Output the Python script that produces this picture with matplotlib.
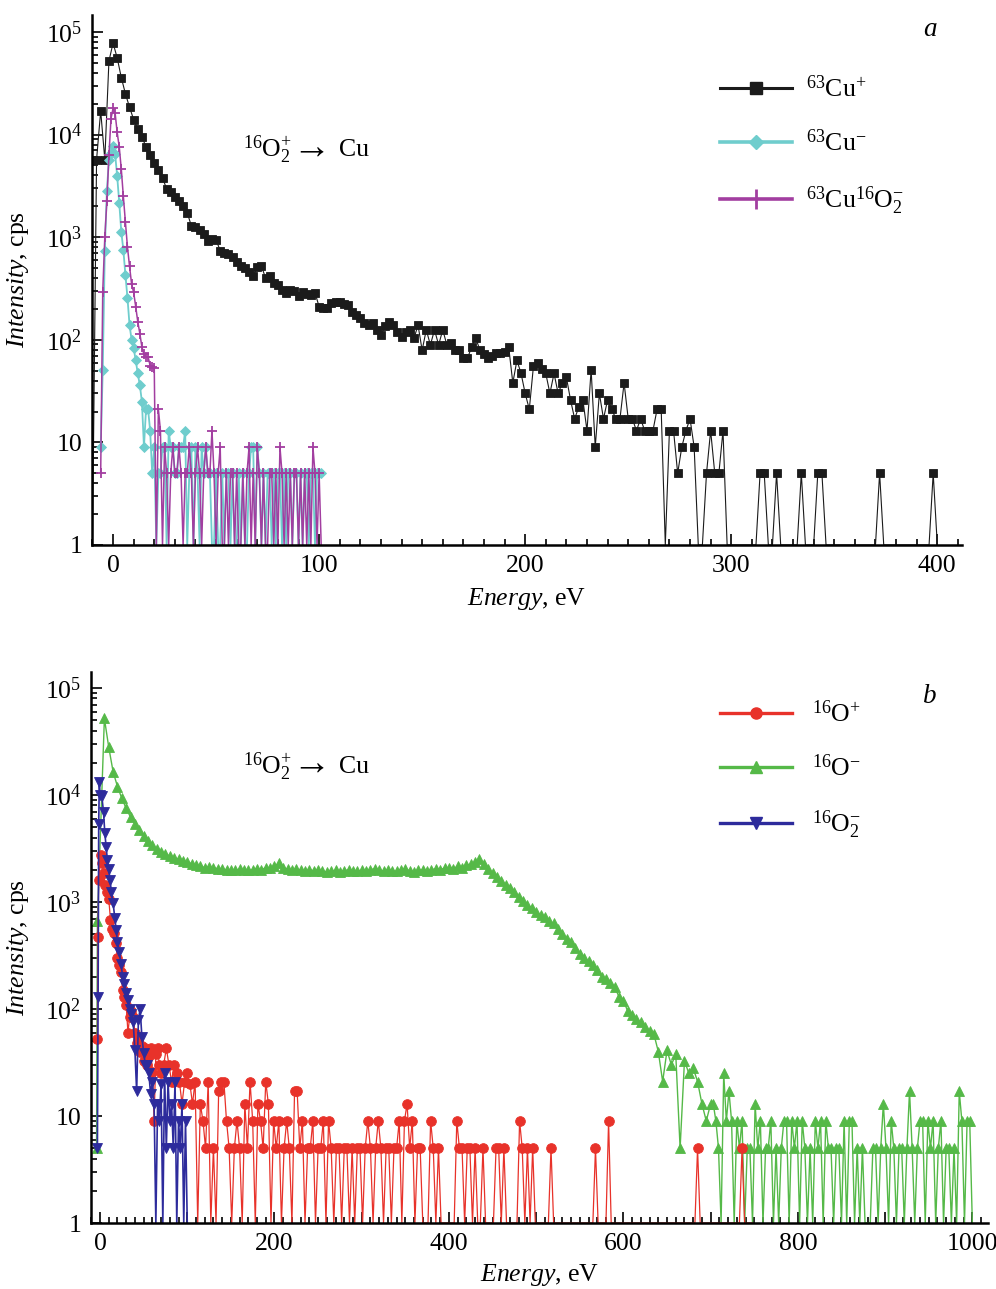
import numpy as np
import matplotlib
matplotlib.use("Agg")
import matplotlib.pyplot as plt
from matplotlib.lines import Line2D
from matplotlib.ticker import FixedLocator, MultipleLocator, LogLocator, NullFormatter, FuncFormatter

plt.rcParams['font.family'] = ['Liberation Serif', 'DejaVu Serif']
plt.rcParams['mathtext.fontset'] = 'custom'
plt.rcParams['mathtext.rm'] = 'Liberation Serif'
plt.rcParams['mathtext.it'] = 'Liberation Serif:italic'
plt.rcParams['mathtext.bf'] = 'Liberation Serif:bold'

# ---------------- panel a data (cps, 0 = no counts) ----------------
cu_plus_start, cu_plus_step = -10, 2
cu_plus = [0, 5700, 17000, 5700, 52000, 78000, 56000, 36000, 25000, 18500,
           14000, 11300, 9500, 7600, 6300, 5300, 4500, 3800, 2950, 2750,
           2450, 2250, 2000, 1730, 1290, 1260, 1170, 1080, 915, 960,
           940, 740, 705, 690, 640, 575, 525, 500, 460, 420,
           510, 525, 400, 420, 355, 340, 305, 285, 305, 300,
           270, 290, 280, 275, 288, 210, 205, 204, 229, 232,
           234, 225, 218, 187, 175, 163, 145, 139, 145, 125,
           111, 135, 150, 139, 120, 107, 118, 125, 103, 139,
           79, 125, 89, 125, 89, 125, 89, 93, 79, 79,
           66, 66, 85, 105, 79, 72, 66, 70, 74, 75,
           76, 85, 38, 63, 47, 30, 21, 55, 59, 52,
           47, 30, 47, 30, 38, 43, 26, 17, 22, 26,
           13, 51, 9, 30, 17, 26, 21, 17, 17, 38,
           17, 17, 13, 17, 13, 13, 13, 21, 21, 0,
           13, 13, 5, 9, 13, 17, 9, 0, 0, 5,
           13, 5, 5, 13, 0, 0, 0, 0, 0, 0,
           0, 0, 5, 5, 0, 0, 5, 0, 0, 0,
           0, 0, 5, 0, 0, 0, 5, 5, 0, 0,
           0, 0, 0, 0, 0, 0, 0, 0, 0, 0,
           0, 5, 0, 0, 0, 0, 0, 0, 0, 0,
           0, 0, 0, 0, 5, 0]

cu_minus_start, cu_minus_step = -6, 1
cu_minus = [9, 51, 740, 2800, 5700, 6600, 7750, 6450, 3950, 2170,
            1130, 750, 430, 256, 139, 100, 83, 63, 47, 36,
            25, 9, 21, 21, 13, 5, 9, 0, 5, 5,
            9, 9, 0, 13, 9, 9, 5, 5, 9, 9,
            9, 13, 0, 5, 9, 0, 9, 5, 0, 9,
            5, 9, 5, 5, 0, 0, 5, 0, 0, 5,
            0, 5, 5, 0, 5, 0, 0, 5, 0, 5,
            0, 0, 5, 9, 9, 0, 9, 5, 0, 5,
            0, 5, 5, 0, 5, 0, 5, 5, 0, 5,
            0, 5, 5, 0, 5, 5, 0, 5, 0, 5,
            5, 0, 5, 5, 0, 5, 5, 5]

cuo2_minus_start, cuo2_minus_step = -6, 1
cuo2_minus = [5, 295, 1000, 2240, 6300, 14300, 18000, 16200, 10500, 7600,
              4600, 2500, 1400, 800, 520, 350, 290, 210, 150, 115,
              85, 72, 68, 68, 56, 54, 53, 0, 21, 13,
              0, 9, 5, 0, 5, 9, 5, 5, 9, 5,
              0, 5, 5, 9, 5, 0, 5, 9, 5, 0,
              5, 9, 5, 5, 13, 5, 0, 5, 9, 0,
              0, 5, 0, 5, 5, 0, 5, 0, 0, 5,
              0, 5, 9, 0, 5, 0, 9, 5, 0, 5,
              0, 0, 5, 5, 0, 5, 0, 9, 5, 0,
              5, 0, 5, 0, 5, 5, 0, 5, 0, 5,
              0, 5, 0, 9, 5, 0, 5, 0]

# ---------------- panel b data ----------------
o_plus_peak_E = [-3, -2.5, -1.5, 1, 2.5, 4, 6, 8, 10, 12, 14, 16, 18, 20, 22, 24, 26, 28, 30,
                 32, 34, 36, 38, 40, 42, 44, 46, 48, 50, 52, 54, 56, 58, 60, 62, 64, 66, 68]
o_plus_peak_I = [53, 475, 1620, 2760, 2300, 1870, 1450, 1250, 1070, 680, 560, 510, 410, 300,
                 260, 220, 150, 130, 110, 60, 85, 95, 85, 60, 48, 51, 40, 45, 33, 43, 30, 36,
                 43, 26, 9, 38, 43, 30]
o_plus_tail_start, o_plus_tail_step = 70, 3
o_plus_tail = [25, 30, 43, 30, 21, 30, 25, 21, 13, 21,
               25, 20, 13, 21, 0, 13, 9, 5, 21, 0,
               5, 0, 17, 21, 21, 9, 5, 0, 5, 9,
               5, 0, 13, 5, 21, 9, 0, 13, 9, 5,
               21, 13, 0, 9, 5, 9, 0, 5, 9, 5,
               0, 17, 17, 5, 9, 0, 5, 5, 9, 0,
               5, 5, 9, 0, 9, 5, 0, 5, 5, 0,
               5, 5, 0, 5, 0, 5, 5, 0, 5, 9,
               5, 0, 5, 9, 5, 0, 5, 5, 0, 5,
               5, 9, 0, 9, 13, 5, 9, 0, 5, 5,
               0, 0, 0, 9, 5, 0, 5, 0, 0, 0,
               0, 0, 0, 9, 5, 5, 0, 5, 5, 0,
               5, 0, 0, 5, 0, 0, 0, 0, 5, 5,
               0, 5, 0, 0, 0, 0, 0, 9, 5, 0,
               5, 0, 5, 0, 0, 0, 0, 0, 0, 5,
               0, 0, 0, 0, 0, 0, 0, 0, 0, 0,
               0, 0, 0, 0, 0, 0, 5, 0, 0, 0,
               0, 9, 0, 0, 0, 0, 0, 0, 0, 0,
               0, 0, 0, 0, 0, 0, 0, 0, 0, 0,
               0, 0, 0, 0, 0, 0, 0, 0, 0, 0,
               0, 0, 0, 0, 0, 5, 0, 0, 0, 0,
               0, 0, 0, 0, 0, 0, 0, 0, 0, 0,
               0, 0, 5, 0, 0, 0, 0]

o_minus_pre_E = [-4, -3]
o_minus_pre_I = [5, 660]
o_minus_main_start, o_minus_main_step = 5, 5
o_minus_main = [52000, 28000, 16500, 12000, 9300, 7500, 6200, 5400, 4700, 4100,
                3700, 3400, 3150, 2950, 2800, 2690, 2600, 2500, 2400, 2350,
                2280, 2200, 2150, 2100, 2120, 2080, 2050, 2030, 2000, 2000,
                1980, 2020, 1990, 1970, 2000, 2050, 2000, 2100, 2060, 2150,
                2300, 2100, 2020, 1980, 2020, 2000, 1950, 2000, 1960, 1990,
                1940, 1900, 1950, 1970, 1920, 1960, 2000, 1950, 1930, 1980,
                1950, 2000, 2050, 1980, 1950, 2000, 1960, 1930, 2000, 2050,
                1950, 1920, 1980, 2000, 1950, 2000, 2050, 2000, 2080, 2100,
                2050, 2150, 2100, 2200, 2250, 2350, 2500, 2250, 2050, 1850,
                1700, 1580, 1450, 1350, 1250, 1120, 1020, 940, 880, 800,
                750, 720, 660, 630, 560, 500, 450, 420, 370, 330,
                300, 280, 260, 230, 200, 190, 175, 160, 130, 120,
                95, 88, 80, 75, 68, 62, 58, 40, 21, 41,
                30, 38, 5, 33, 25, 28, 21, 13, 9, 13]
o_minus_tail_start, o_minus_tail_step = 703, 3
o_minus_tail = [13, 9, 5, 0, 25, 9, 17, 9, 0, 9,
                5, 9, 0, 5, 5, 0, 13, 5, 9, 0,
                5, 5, 9, 0, 5, 0, 5, 9, 9, 0,
                9, 5, 9, 0, 9, 5, 0, 5, 0, 9,
                5, 9, 0, 9, 5, 5, 0, 5, 5, 0,
                9, 0, 9, 9, 0, 5, 0, 5, 0, 0,
                0, 5, 5, 0, 5, 13, 5, 0, 9, 5,
                0, 5, 5, 0, 5, 17, 5, 0, 5, 9,
                9, 0, 9, 5, 9, 0, 5, 9, 0, 5,
                5, 0, 5, 0, 17, 9, 0, 9, 9, 0]

o2_minus_E = [-3, -2.2, -1.5, -0.8, 0, 2, 4, 5.5, 7, 8.5, 10, 11.5, 13, 15, 17, 18.5, 20, 22,
              24, 26, 28, 30, 32, 34, 36, 38, 40, 42, 44, 46, 48, 50, 52, 54, 56, 58, 60, 62,
              64, 66, 68, 70, 72, 74, 76, 78, 80, 82, 84, 86, 88, 90, 92, 94, 96, 98, 100]
o2_minus_I = [5, 130, 5400, 13300, 10000, 9800, 6950, 4400, 3300, 2450, 2040, 1600, 1250,
              975, 705, 550, 425, 343, 266, 200, 170, 140, 121, 100, 90, 76, 41, 17, 79, 100,
              55, 39, 30, 30, 25, 16, 21, 13, 0, 13, 9, 20, 0, 25, 5, 21, 9, 13, 5, 21, 0,
              9, 5, 13, 0, 9, 0]

# ---------------- colours / labels ----------------
C_CUP, C_CUM, C_CUO2 = '#1b1b1b', '#6fcdcd', '#a23ea0'
C_OP, C_OM, C_O2M = '#e8322a', '#55b948', '#2d2b9c'

lab_cup = r'$^{63}$Cu$^{+}$'
lab_cum = r'$^{63}$Cu$^{-}$'
lab_cuo2 = r'$^{63}$Cu$^{16}$O$_2^{-}$'
lab_op = r'$^{16}$O$^{+}$'
lab_om = r'$^{16}$O$^{-}$'
lab_o2m = r'$^{16}$O$_2^{-}$'
reaction_ion = r'$^{16}$O$_2^{+}$'
reaction_arrow = '\u2192'
reaction_target = 'Cu'

FS = 18.5


def grid(start, step, values):
    v = np.asarray(values, float)
    return start + step * np.arange(len(v)), v


def draw(ax, E, I, color, marker, ms, lw, mew=0.6, z=2):
    E = np.asarray(E, float)
    I = np.asarray(I, float)
    ax.plot(E, np.where(I > 0, I, 1.0), color=color, lw=lw, zorder=z, solid_joinstyle='miter')
    m = I > 0
    if marker == '+':
        ax.plot(E[m], I[m], ls='none', marker='+', ms=ms, mew=mew, color=color, zorder=z + 0.1)
    else:
        ax.plot(E[m], I[m], ls='none', marker=marker, ms=ms, mfc=color, mec=color, mew=mew,
                zorder=z + 0.1)


def style_axes(ax, xmin, xmax, ytop, major_x, label_every):
    ax.set_yscale('log')
    ax.set_xlim(xmin, xmax)
    ax.set_ylim(1, ytop)
    for s in ('top', 'right'):
        ax.spines[s].set_visible(False)
    for s in ('left', 'bottom'):
        ax.spines[s].set_linewidth(1.8)
        ax.spines[s].set_zorder(5)
    ax.yaxis.set_major_locator(FixedLocator([1, 10, 100, 1e3, 1e4, 1e5]))
    ax.yaxis.set_major_formatter(FuncFormatter(
        lambda v, p: {1: '1', 10: '10'}.get(int(round(v)), r'$10^{%d}$' % int(round(np.log10(v))))))
    ax.yaxis.set_minor_locator(LogLocator(base=10, subs=np.arange(2, 10), numticks=20))
    ax.yaxis.set_minor_formatter(NullFormatter())
    ax.xaxis.set_major_locator(MultipleLocator(major_x))
    ax.xaxis.set_minor_locator(MultipleLocator(10))
    ax.xaxis.set_major_formatter(FuncFormatter(
        lambda v, p: '%d' % int(round(v)) if int(round(v)) % label_every == 0 else ''))
    ax.tick_params(which='both', direction='in', width=1.2, labelsize=FS, top=False, right=False)
    ax.tick_params(which='major', length=8, pad=7)
    ax.tick_params(which='minor', length=4.5)
    ax.set_xlabel(r'$\mathit{Energy}$, eV', fontsize=FS)
    ax.set_ylabel(r'$\mathit{Intensity}$, cps', fontsize=FS)


def reaction_label(ax, x, y):
    t = ax.text(x, y, reaction_ion, transform=ax.transAxes, fontsize=FS, va='center', ha='left')
    a = ax.annotate(reaction_arrow, xy=(1, 0.5), xycoords=t, xytext=(0, 1.5),
                    textcoords='offset points', fontsize=FS + 9, va='center', ha='left')
    ax.annotate(reaction_target, xy=(1, 0.5), xycoords=t, xytext=(34, 0),
                textcoords='offset points', fontsize=FS, va='center', ha='left')


fig = plt.figure(figsize=(9.96, 12.89), dpi=100)
axa = fig.add_axes([0.0924, 0.5772, 0.8735, 0.4112])
axb = fig.add_axes([0.0914, 0.0512, 0.9006, 0.4275])

# ---- panel a ----
E, I = grid(cu_plus_start, cu_plus_step, cu_plus)
draw(axa, E, I, C_CUP, 's', 6.3, 0.8, z=2)
E, I = grid(cu_minus_start, cu_minus_step, cu_minus)
draw(axa, E, I, C_CUM, 'D', 5.4, 1.3, z=3)
E, I = grid(cuo2_minus_start, cuo2_minus_step, cuo2_minus)
draw(axa, E, I, C_CUO2, '+', 7.0, 1.1, mew=1.3, z=3.5)
style_axes(axa, -10.2, 412, 10 ** 5.166, 100, 100)
axa.xaxis.set_label_coords(0.5, -0.078)
axa.yaxis.set_label_coords(-0.070, 0.5)

ha = [Line2D([], [], color=C_CUP, lw=2.2, marker='s', ms=8, mfc=C_CUP, mec=C_CUP),
      Line2D([], [], color=C_CUM, lw=2.6, marker='D', ms=7, mfc=C_CUM, mec=C_CUM),
      Line2D([], [], color=C_CUO2, lw=2.6, marker='|', ms=14, mew=2, mec=C_CUO2)]
axa.legend(ha, [lab_cup, lab_cum, lab_cuo2], loc='upper left', bbox_to_anchor=(0.722, 0.886),
           frameon=False, fontsize=FS, handlelength=2.8, handletextpad=0.55, labelspacing=1.09,
           borderpad=0, borderaxespad=0, numpoints=1)
reaction_label(axa, 0.1736, 0.745)
axa.text(0.963, 0.972, 'a', transform=axa.transAxes, fontsize=FS + 1, style='italic',
         va='center', ha='center')

# ---- panel b ----
E1, I1 = grid(o_minus_main_start, o_minus_main_step, o_minus_main)
E2, I2 = grid(o_minus_tail_start, o_minus_tail_step, o_minus_tail)
E = np.concatenate([o_minus_pre_E, E1, E2])
I = np.concatenate([o_minus_pre_I, I1, I2])
draw(axb, E, I, C_OM, '^', 7.6, 1.0, z=2)
Et, It = grid(o_plus_tail_start, o_plus_tail_step, o_plus_tail)
E = np.concatenate([o_plus_peak_E, Et])
I = np.concatenate([o_plus_peak_I, It])
draw(axb, E, I, C_OP, 'o', 7.0, 0.9, z=3)
draw(axb, o2_minus_E, o2_minus_I, C_O2M, 'v', 7.0, 1.2, z=4)
style_axes(axb, -10.3, 1018, 10 ** 5.15, 100, 200)
axb.xaxis.set_label_coords(0.5, -0.071)
axb.yaxis.set_label_coords(-0.067, 0.5)

hb = [Line2D([], [], color=C_OP, lw=2.4, marker='o', ms=8, mfc=C_OP, mec=C_OP),
      Line2D([], [], color=C_OM, lw=2.4, marker='^', ms=9, mfc=C_OM, mec=C_OM),
      Line2D([], [], color=C_O2M, lw=2.4, marker='v', ms=9, mfc=C_O2M, mec=C_O2M)]
axb.legend(hb, [lab_op, lab_om, lab_o2m], loc='upper left', bbox_to_anchor=(0.701, 0.948),
           frameon=False, fontsize=FS, handlelength=2.8, handletextpad=0.8, labelspacing=1.07,
           borderpad=0, borderaxespad=0, numpoints=1)
reaction_label(axb, 0.1695, 0.8276)
axb.text(0.935, 0.955, 'b', transform=axb.transAxes, fontsize=FS + 1, style='italic',
         va='center', ha='center')

fig.savefig('out.png', dpi=100)
